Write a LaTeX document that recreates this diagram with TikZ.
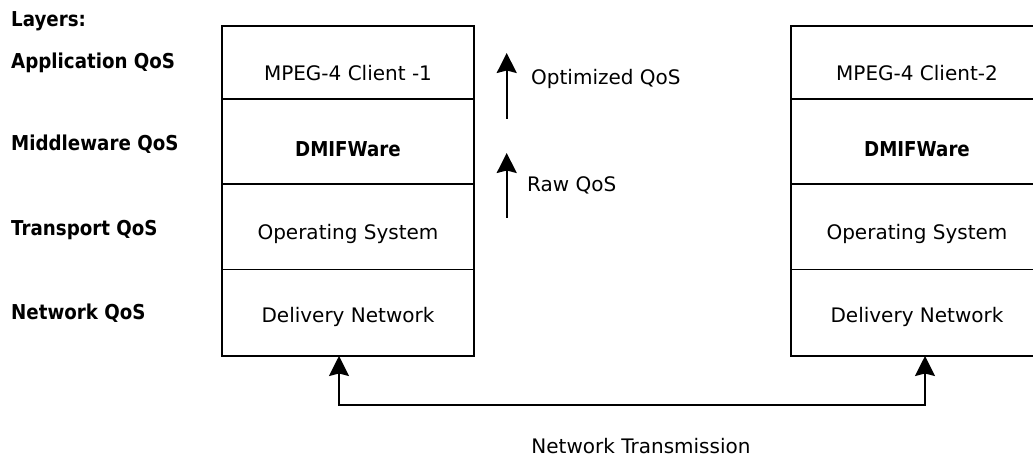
\documentclass[tikz,border=0pt]{standalone}
\usepackage{fontspec}
\setmainfont{DejaVu Sans}
\newfontfamily\narrowfont{DejaVu Sans}[FakeStretch=0.89]
\usetikzlibrary{arrows.meta}

\begin{document}
\begin{tikzpicture}[x=1pt, y=-1pt,
  layerbox/.style={draw, line width=1.6pt, minimum width=252pt,
                   inner sep=0pt, outer sep=0pt, anchor=north west},
  boxtext/.style={font=\fontsize{20}{24}\selectfont, inner sep=0pt, anchor=base},
  boldtext/.style={font=\narrowfont\bfseries\fontsize{20.5}{24}\selectfont,
                   inner sep=0pt, anchor=base},
  layerlabel/.style={font=\narrowfont\bfseries\fontsize{20.5}{24}\selectfont,
                   inner sep=0pt, anchor=base west},
  plainlabel/.style={font=\fontsize{20}{24}\selectfont, inner sep=0pt, anchor=base west},
  uparrow/.style={line width=1.8pt, -{Stealth[length=20pt, width=20pt, inset=2.5pt]}},
  linkarrow/.style={line width=1.8pt,
                    {Stealth[length=20pt, width=20pt, inset=2.5pt]}-{Stealth[length=20pt, width=20pt, inset=2.5pt]}},
]
  \useasboundingbox (0,0) rectangle (1033,457);
  \fill[white] (0,0) rectangle (1033,457);
  \clip (0,0) rectangle (1033,457);

  % layer names on the left
  \node[layerlabel] (hdr) at (11,26.7) {Layers:};
  \node[layerlabel] (nApp) at (11,68.7) {Application QoS};
  \node[layerlabel] (nMid) at (11,150.7) {Middleware QoS};
  \node[layerlabel] (nTra) at (11,235) {Transport QoS};
  \node[layerlabel] (nNet) at (11,319.5) {Network QoS};

  % left protocol stack
  \node[layerbox, minimum height=73.3pt] (L1) at (222,26) {};
  \node[layerbox, minimum height=85pt]   (L2) at (L1.south west) {};
  \node[layerbox, minimum height=85pt]   (L3) at (L2.south west) {};
  \node[layerbox, minimum height=86.7pt] (L4) at (L3.south west) {};
  \node[boxtext]  (L1t) at (348,81)  {MPEG-4 Client -1};
  \node[boldtext] (L2t) at (348,157) {DMIFWare};
  \node[boxtext]  (L3t) at (348,240) {Operating System};
  \node[boxtext]  (L4t) at (348,322) {Delivery Network};

  % right protocol stack
  \node[layerbox, minimum height=73.3pt] (R1) at (791,26) {};
  \node[layerbox, minimum height=85pt]   (R2) at (R1.south west) {};
  \node[layerbox, minimum height=85pt]   (R3) at (R2.south west) {};
  \node[layerbox, minimum height=86.7pt] (R4) at (R3.south west) {};
  \node[boxtext]  (R1t) at (917,81)  {MPEG-4 Client-2};
  \node[boldtext] (R2t) at (917,157) {DMIFWare};
  \node[boxtext]  (R3t) at (917,240) {Operating System};
  \node[boxtext]  (R4t) at (917,322) {Delivery Network};

  % QoS improvement arrows
  \coordinate (optLow)  at (506.7,119);
  \coordinate (optHigh) at (506.7,53);
  \coordinate (rawLow)  at (506.7,218);
  \coordinate (rawHigh) at (506.7,153);
  \draw[uparrow] (optLow) -- (optHigh);
  \draw[uparrow] (rawLow) -- (rawHigh);
  \node[plainlabel] (optq) at (531,85)  {Optimized QoS};
  \node[plainlabel] (rawq) at (527,192) {Raw QoS};

  % network link between the two stacks
  \coordinate (linkL) at (339,405);
  \coordinate (linkR) at (925,405);
  \draw[linkarrow] (L4.south -| linkL) -- (linkL) -- (linkR) -- (R4.south -| linkR);
  \node[boxtext] (netx) at (641,453) {Network Transmission};
\end{tikzpicture}
\end{document}
